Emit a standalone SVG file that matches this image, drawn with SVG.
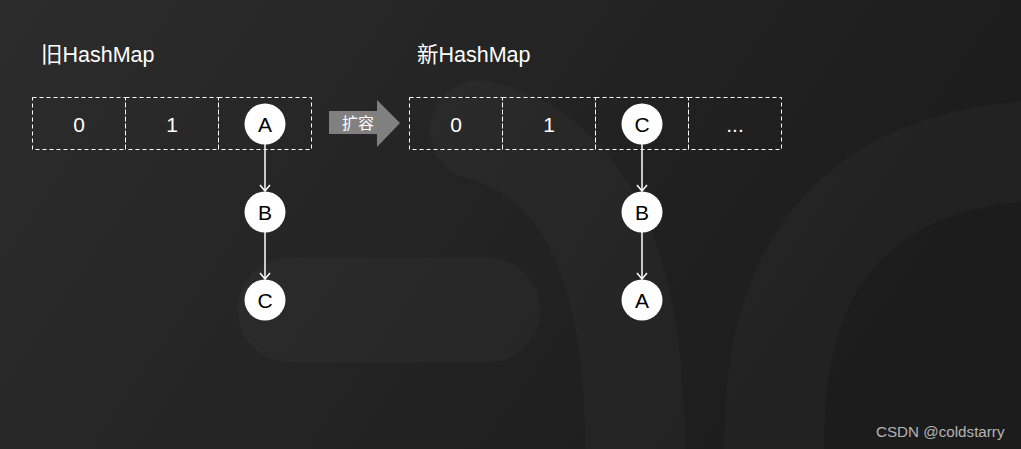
<svg xmlns="http://www.w3.org/2000/svg" width="1021" height="449" viewBox="0 0 1021 449">
<defs>
<linearGradient id="bg" x1="0" y1="0" x2="1" y2="0.3">
<stop offset="0" stop-color="#2c2c2c"/>
<stop offset="1" stop-color="#1c1c1c"/>
</linearGradient>
<marker id="arr" markerWidth="12" markerHeight="12" refX="11" refY="6" orient="auto" markerUnits="userSpaceOnUse" viewBox="0 0 12 12">
<path d="M5 1 L11 6 L5 11" fill="none" stroke="#ffffff" stroke-width="1.5"/>
</marker>
<style>
.cell{fill:none;stroke:#ffffff;stroke-width:1;stroke-dasharray:4 3}
.ctext{font-family:"Liberation Sans",Arial,sans-serif;font-size:21px;fill:#ffffff;text-anchor:middle}
.node circle{fill:#ffffff}
.ntext{font-family:"Liberation Sans",Arial,sans-serif;font-size:21px;fill:#000000;text-anchor:middle}
.title{font-family:"Liberation Sans","Noto Sans CJK SC",sans-serif;font-size:21.5px;fill:#ffffff}
.deco{fill:none;stroke:#ffffff;stroke-opacity:0.025;stroke-linecap:round}
.edge{stroke:#ffffff;stroke-width:1.5;fill:none}
</style>
</defs>
<rect width="1021" height="449" fill="url(#bg)"/>
<g id="background">
<path class="deco" d="M290 310 L488 310" stroke-width="105"/>
<path class="deco" d="M480 130 Q 640 170 635 470" stroke-width="100"/>
<path class="deco" d="M775 470 Q 760 165 1040 150" stroke-width="100"/>
</g>
<g id="title-old"><text class="title" x="41" y="62">旧HashMap</text></g>
<g id="title-new"><text class="title" x="417" y="62">新HashMap</text></g>
<g id="old-table">
<rect class="cell" x="32.5" y="97.5" width="93" height="52"/>
<rect class="cell" x="125.5" y="97.5" width="93" height="52"/>
<rect class="cell" x="218.5" y="97.5" width="93" height="52"/>
<text class="ctext" x="79" y="131.5">0</text>
<text class="ctext" x="172" y="131.5">1</text>
</g>
<g id="new-table">
<rect class="cell" x="409.5" y="97.5" width="93" height="52"/>
<rect class="cell" x="502.5" y="97.5" width="93" height="52"/>
<rect class="cell" x="595.5" y="97.5" width="93" height="52"/>
<rect class="cell" x="688.5" y="97.5" width="93" height="52"/>
<text class="ctext" x="456" y="131.5">0</text>
<text class="ctext" x="549" y="131.5">1</text>
<text class="ctext" x="735" y="131.5">...</text>
</g>
<g id="expand-arrow">
<path d="M329 111 L377 111 L377 100 L400 123 L377 147 L377 134 L329 134 Z" fill="#808080"/>
<text x="358" y="129" font-family="'Noto Sans CJK SC',sans-serif" font-size="16" fill="#ffffff" text-anchor="middle">扩容</text>
</g>
<g id="connectors">
<line class="edge" x1="265" y1="144" x2="265" y2="191" marker-end="url(#arr)"/>
<line class="edge" x1="265" y1="232" x2="265" y2="279" marker-end="url(#arr)"/>
<line class="edge" x1="642" y1="144" x2="642" y2="191" marker-end="url(#arr)"/>
<line class="edge" x1="642" y1="232" x2="642" y2="279" marker-end="url(#arr)"/>
</g>
<g id="old-A" class="node"><circle cx="265" cy="124" r="20.5"/><text class="ntext" x="265" y="131.5">A</text></g>
<g id="old-B" class="node"><circle cx="265" cy="212" r="20.5"/><text class="ntext" x="265" y="219.5">B</text></g>
<g id="old-C" class="node"><circle cx="265" cy="300" r="20.5"/><text class="ntext" x="265" y="307.5">C</text></g>
<g id="new-C" class="node"><circle cx="642" cy="124" r="20.5"/><text class="ntext" x="642" y="131.5">C</text></g>
<g id="new-B" class="node"><circle cx="642" cy="212" r="20.5"/><text class="ntext" x="642" y="219.5">B</text></g>
<g id="new-A" class="node"><circle cx="642" cy="300" r="20.5"/><text class="ntext" x="642" y="307.5">A</text></g>
<text x="876" y="437" font-family="'Liberation Sans',Arial,sans-serif" font-size="15.2" fill="#b4b4b4">CSDN @coldstarry</text>
</svg>
